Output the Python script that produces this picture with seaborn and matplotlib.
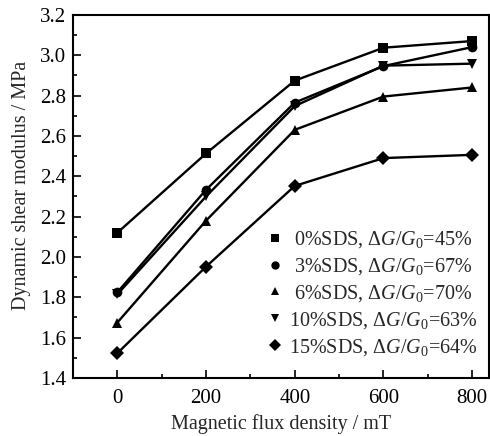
import pandas as pd
import numpy as np
import matplotlib
matplotlib.use('Agg')
import matplotlib.pyplot as plt
from matplotlib.lines import Line2D
from matplotlib.ticker import MultipleLocator
import seaborn as sns

# --- Data ---
flux = [0, 200, 400, 600, 800]
sds_0 = [2.12, 2.513, 2.874, 3.037, 3.070]
sds_3 = [1.825, 2.333, 2.765, 2.946, 3.040]
sds_6 = [1.675, 2.180, 2.630, 2.795, 2.840]
sds_10 = [1.815, 2.300, 2.748, 2.948, 2.958]
sds_15 = [1.523, 1.952, 2.352, 2.490, 2.506]
labels = ['0%SDS', '3%SDS', '6%SDS', '10%SDS', '15%SDS']
ratios = ['45%', '67%', '70%', '63%', '64%']
markers = ['s', 'o', '^', 'v', 'D']

# --- Configurations ---
sns.set_theme(style='ticks')
plt.rcParams['font.family'] = ['Liberation Serif', 'DejaVu Serif']
plt.rcParams['mathtext.fontset'] = 'custom'
plt.rcParams['mathtext.rm'] = 'Liberation Serif'
plt.rcParams['mathtext.it'] = 'Liberation Serif:italic'

df = pd.DataFrame({
    'B': flux * 5,
    'G': sds_0 + sds_3 + sds_6 + sds_10 + sds_15,
    'sample': np.repeat(labels, len(flux)),
})

fig = plt.figure(figsize=(4.9, 4.36), dpi=100)
ax = fig.add_axes([0.149, 0.133, 0.849, 0.833])

sns.lineplot(
    data=df, x='B', y='G', hue='sample', style='sample',
    palette=['black'] * 5, markers=markers, dashes=False,
    markersize=7, linewidth=1.7, markeredgewidth=0,
    legend=False, ax=ax
)

ax.set_xlim(-100, 838)
ax.set_ylim(1.4, 3.2)
ax.xaxis.set_major_locator(MultipleLocator(200))
ax.xaxis.set_minor_locator(MultipleLocator(100))
ax.yaxis.set_major_locator(MultipleLocator(0.2))
ax.yaxis.set_minor_locator(MultipleLocator(0.1))
ax.yaxis.set_major_formatter(matplotlib.ticker.FormatStrFormatter('%.1f'))
ax.tick_params(which='both', direction='in', top=False, right=False,
               labelsize=15, colors='black', width=1.2)
ax.tick_params(axis='y', which='major', length=6, pad=5)
ax.tick_params(axis='x', which='major', length=6, pad=8)
ax.tick_params(which='minor', length=3)
for s in ax.spines.values():
    s.set_linewidth(1.5)
    s.set_color('black')

ax.set_xlabel('Magnetic flux density / mT', fontsize=14.5, labelpad=4)
ax.set_ylabel('Dynamic shear modulus / MPa', fontsize=14.5, labelpad=5)
ax.yaxis.set_label_coords(-0.10, 0.53)

handles = [Line2D([], [], color='black', marker=m, linestyle='none',
                  markersize=6, markeredgewidth=0) for m in markers]
texts = [(' ' if len(lab) < 6 else '') + f'{lab}, $\\Delta G/G_0$={r}'
         for lab, r in zip(labels, ratios)]
ax.legend(handles, texts, loc='lower right', frameon=False, fontsize=14.5,
          handlelength=0.6, handletextpad=0.4, labelspacing=0.3,
          borderaxespad=0.6, bbox_to_anchor=(1.02, 0.0))

fig.savefig('out.png', dpi=100)
